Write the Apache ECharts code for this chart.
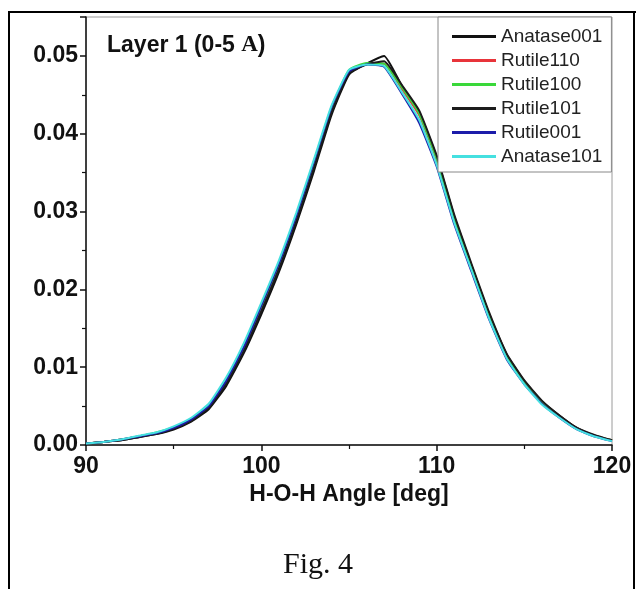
<!DOCTYPE html>
<html>
<head>
<meta charset="utf-8">
<script src="https://cdn.jsdelivr.net/npm/echarts@6/dist/echarts.min.js"></script>
<style>
  html, body { margin: 0; padding: 0; background: #fff; }
  #main { width: 636px; height: 589px; }
</style>
</head>
<body>
<div id="main"></div>
<script>
// H-O-H angle distribution, layer 1 (0-5 A)
var angles = [90, 91, 92, 93, 94, 95, 96, 97, 98, 99, 100, 101, 102, 103, 104, 105,
	106, 107, 108, 109, 110, 111, 112, 113, 114, 115, 116, 117, 118, 119, 120];

var seriesNames = ['Anatase001', 'Rutile110', 'Rutile100', 'Rutile101', 'Rutile001', 'Anatase101'];
var seriesColors = ['#111111', '#e8343a', '#3ad83a', '#1c1c1c', '#1c1caa', '#45e0e0'];

var anatase001 = [.0002, .0004, .0006, .0010, .0014, .0020, .0030, .0046, .0076, .0118, .0168, .0222, .0284, .0352, .0424, .0476,
	.0490, .0500, .0462, .0428, .0370, .0294, .0230, .0168, .0116, .0082, .0056, .0038, .0022, .0012, .0006];
var rutile110 = [.0002, .0004, .0007, .0011, .0015, .0022, .0032, .0050, .0082, .0124, .0176, .0230, .0292, .0360, .0430, .0480,
	.0490, .0490, .0458, .0424, .0366, .0290, .0228, .0166, .0114, .0081, .0055, .0037, .0021, .0012, .0006];
var rutile100 = [.0002, .0004, .0007, .0011, .0016, .0023, .0033, .0051, .0083, .0126, .0178, .0232, .0294, .0362, .0432, .0482,
	.0491, .0490, .0460, .0426, .0368, .0292, .0229, .0166, .0114, .0080, .0054, .0036, .0021, .0012, .0006];
var rutile101 = [.0002, .0004, .0006, .0010, .0014, .0021, .0031, .0048, .0079, .0121, .0172, .0226, .0288, .0356, .0427, .0478,
	.0489, .0493, .0463, .0430, .0372, .0296, .0232, .0170, .0117, .0083, .0057, .0038, .0022, .0013, .0006];
var rutile001 = [.0002, .0004, .0007, .0011, .0015, .0022, .0033, .0050, .0083, .0126, .0179, .0233, .0295, .0364, .0434, .0480,
	.0489, .0486, .0452, .0414, .0358, .0284, .0222, .0161, .0110, .0078, .0053, .0035, .0020, .0011, .0005];
var anatase101 = [.0002, .0004, .0007, .0012, .0016, .0024, .0035, .0053, .0087, .0131, .0183, .0237, .0299, .0367, .0436, .0482,
	.0489, .0487, .0454, .0418, .0360, .0286, .0224, .0162, .0111, .0078, .0052, .0035, .0020, .0011, .0005];

var allValues = [anatase001, rutile110, rutile100, rutile101, rutile001, anatase101];

var yTicks = ['0.00', '0.01', '0.02', '0.03', '0.04', '0.05'];

var myChart = echarts.init(document.getElementById('main'));

function pairs(values) {
	var out = [];
	for (var i = 0; i < angles.length; i++) {
		out.push([angles[i], values[i]]);
	}
	return out;
}

var series = [];
for (var k = 0; k < seriesNames.length; k++) {
	series.push({
		name: seriesNames[k],
		type: 'line',
		symbol: 'none',
		smooth: 0.15,
		data: pairs(allValues[k]),
		lineStyle: { color: seriesColors[k], width: 2 },
		itemStyle: { color: seriesColors[k] }
	});
}

var boldFont = 'Liberation Sans';

var option = {
	animation: false,
	backgroundColor: '#fff',
	title: {
		text: '{a|Layer 1 (0-5 }{b|A}{a|)}',
		left: 107,
		top: 34,
		padding: 0,
		textStyle: {
			rich: {
				a: { fontFamily: boldFont, fontWeight: 'bold', fontSize: 23, color: '#111' },
				b: { fontFamily: 'Liberation Serif', fontSize: 23, color: '#111' }
			}
		}
	},
	legend: {
		orient: 'vertical',
		left: 438,
		top: 17,
		padding: [10, 9, 6, 14],
		icon: 'rect',
		itemWidth: 44,
		itemHeight: 3,
		itemGap: 5,
		borderColor: '#888',
		borderWidth: 1,
		backgroundColor: '#fff',
		textStyle: { fontFamily: boldFont, fontSize: 19, color: '#222' },
		data: seriesNames
	},
	grid: {
		left: 86,
		right: 24,
		top: 17,
		bottom: 144,
		show: true,
		borderColor: '#9a9a9a',
		borderWidth: 1
	},
	xAxis: {
		type: 'value',
		min: 90,
		max: 120,
		interval: 10,
		name: 'H-O-H Angle [deg]',
		nameLocation: 'middle',
		nameGap: 36,
		nameTextStyle: { fontFamily: boldFont, fontWeight: 'bold', fontSize: 23, color: '#111' },
		axisLine: { lineStyle: { color: '#111', width: 1.5 } },
		axisTick: { show: true, inside: false, length: 6, lineStyle: { color: '#111', width: 1.5 } },
		minorTick: { show: true, splitNumber: 2, length: 4, lineStyle: { color: '#111', width: 1.2 } },
		splitLine: { show: false },
		axisLabel: { margin: 10, fontFamily: boldFont, fontWeight: 'bold', fontSize: 23, color: '#111' }
	},
	yAxis: {
		type: 'value',
		min: 0,
		max: 0.055,
		interval: 0.01,
		axisLine: { show: true, lineStyle: { color: '#111', width: 1.5 } },
		axisTick: { show: true, inside: false, length: 6, lineStyle: { color: '#111', width: 1.5 } },
		minorTick: { show: true, splitNumber: 2, length: 4, lineStyle: { color: '#111', width: 1.2 } },
		splitLine: { show: false },
		axisLabel: {
			margin: 8,
			fontFamily: boldFont,
			fontWeight: 'bold',
			fontSize: 23,
			color: '#111',
			formatter: function (v) {
				var idx = Math.round(v / 0.01);
				if (Math.abs(v - idx * 0.01) > 1e-6 || idx >= yTicks.length) return '';
				return yTicks[idx];
			}
		}
	},
	graphic: [
		{ type: 'line', shape: { x1: 9, y1: 12, x2: 9, y2: 589 }, style: { stroke: '#000', lineWidth: 2 } },
		{ type: 'line', shape: { x1: 8, y1: 12, x2: 636, y2: 12 }, style: { stroke: '#000', lineWidth: 2 } },
		{ type: 'line', shape: { x1: 634, y1: 12, x2: 634, y2: 589 }, style: { stroke: '#000', lineWidth: 2 } },
		{
			type: 'text',
			x: 318,
			y: 565,
			style: {
				text: 'Fig. 4',
				font: '30px "Liberation Serif"',
				fill: '#111',
				textAlign: 'center',
				textVerticalAlign: 'middle'
			}
		}
	],
	series: series
};

myChart.setOption(option);
</script>
</body>
</html>
